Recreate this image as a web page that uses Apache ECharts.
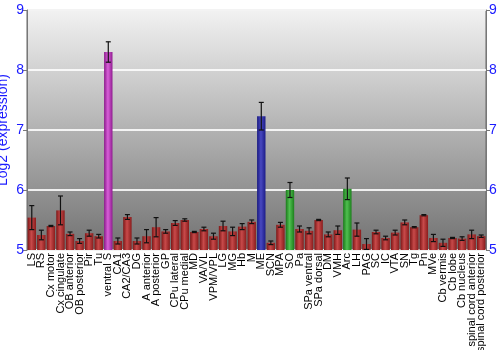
<!DOCTYPE html>
<html><head><meta charset="utf-8">
<script src="https://cdn.jsdelivr.net/npm/echarts@6/dist/echarts.min.js"></script>
<style>html,body{margin:0;padding:0;background:#fff}#c{width:500px;height:350px}</style>
</head><body><div id="c"></div>
<script>
const categories = ["LS","RS","Cx motor","Cx cingulate","OB anterior","OB posterior","Pir","Tu","ventral S","CA1","CA2/CA3","DG","A anterior","A posterior","GP","CPu lateral","CPu medial","MD","VA/VL","VPM/VPL","LG","MG","Hb","M","ME","SCN","MPA","SO","Pa","SPa ventral","SPa dorsal","DM","VMH","Arc","LH","PAG","SC","IC","VTA","SN","Tg","Pn","MVe","Cb vermis","Cb lobe","Cb nucleus","spinal cord anterior","spinal cord posterior"];
const values = [5.54,5.25,5.40,5.66,5.27,5.15,5.28,5.23,8.30,5.15,5.55,5.15,5.23,5.38,5.31,5.45,5.50,5.30,5.35,5.23,5.40,5.31,5.39,5.47,7.23,5.12,5.42,6.00,5.35,5.32,5.50,5.26,5.33,6.02,5.34,5.10,5.30,5.20,5.29,5.46,5.38,5.58,5.20,5.12,5.20,5.19,5.26,5.23];
const errors = [0.20,0.08,0.01,0.24,0.03,0.04,0.05,0.03,0.17,0.05,0.04,0.05,0.11,0.16,0.03,0.04,0.02,0.01,0.03,0.05,0.08,0.07,0.05,0.03,0.23,0.03,0.04,0.125,0.05,0.05,0.01,0.04,0.07,0.18,0.11,0.09,0.03,0.03,0.04,0.04,0.01,0.01,0.06,0.06,0.01,0.03,0.07,0.02];
const groups = ["r","r","r","r","r","r","r","r","m","r","r","r","r","r","r","r","r","r","r","r","r","r","r","r","b","r","r","g","r","r","r","r","r","g","r","r","r","r","r","r","r","r","r","r","r","r","r","r"];
const yTicks = [5,6,7,8,9];

const palette = {
  r: ['#7e1616','#c84a4a','#8a1c1c'],
  m: ['#8a1a8a','#d860d8','#901c90'],
  b: ['#1a1a80','#4848c0','#1c1c88'],
  g: ['#1a7a1a','#50c050','#1c801c']
};
function grad(k){
  const p = palette[k];
  return new echarts.graphic.LinearGradient(0,0,1,0,[
    {offset:0,color:p[0]},{offset:0.45,color:p[1]},{offset:1,color:p[2]}
  ]);
}
const chart = echarts.init(document.getElementById('c'), null, {renderer:'canvas'});
const barData = values.map((v,i)=>({value:v, itemStyle:{color:grad(groups[i])}}));
const errData = values.map((v,i)=>[i, v-errors[i], v+errors[i]]);
const yAxisCommon = {
  type:'value', min:yTicks[0], max:yTicks[yTicks.length-1], interval:1,
  axisLine:{show:true, lineStyle:{color:'#777'}},
  axisTick:{show:true, length:4, lineStyle:{color:'#777'}},
  splitLine:{show:false},
  axisLabel:{color:'#1a1aff', fontSize:14, fontFamily:'Liberation Sans, Arial', margin:3}
};
chart.setOption({
  animation:false,
  grid:{left:27, right:14, top:10, bottom:100, show:true, containLabel:false, outerBoundsMode:'none',
    borderColor:'#666', borderWidth:1,
    backgroundColor:new echarts.graphic.LinearGradient(0,0,0,1,[
      {offset:0,color:'#f2f2f2'},{offset:1,color:'#727272'}])},
  xAxis:{type:'category', data:categories,
    axisLine:{show:false}, axisTick:{show:false},
    axisLabel:{rotate:90, interval:0, color:'#000', fontSize:11, fontFamily:'Liberation Sans, Arial', margin:3}},
  yAxis:[
    Object.assign({}, yAxisCommon, {position:'left',
      name:'Log2 (expression)', nameLocation:'middle', nameGap:17, nameMoveOverlap:false,
      nameTextStyle:{color:'#1a1aff', fontSize:14, fontFamily:'Liberation Sans, Arial'},
      splitLine:{show:true, lineStyle:{color:'#ffffff', width:2, opacity:0.85}}}),
    Object.assign({}, yAxisCommon, {position:'right'})
  ],
  series:[
    {type:'bar', data:barData, barCategoryGap:'12%', yAxisIndex:0},
    {type:'custom', yAxisIndex:0, data:errData, z:10,
      renderItem:function(params, api){
        const x = api.coord([api.value(0), api.value(1)])[0];
        const lo = api.coord([api.value(0), api.value(1)])[1];
        const hi = api.coord([api.value(0), api.value(2)])[1];
        const w = 2.5;
        const st = {stroke:'#111', lineWidth:1.2};
        return {type:'group', children:[
          {type:'line', shape:{x1:x,y1:lo,x2:x,y2:hi}, style:st},
          {type:'line', shape:{x1:x-w,y1:lo,x2:x+w,y2:lo}, style:st},
          {type:'line', shape:{x1:x-w,y1:hi,x2:x+w,y2:hi}, style:st}
        ]};
      }}
  ]
});
</script></body></html>
